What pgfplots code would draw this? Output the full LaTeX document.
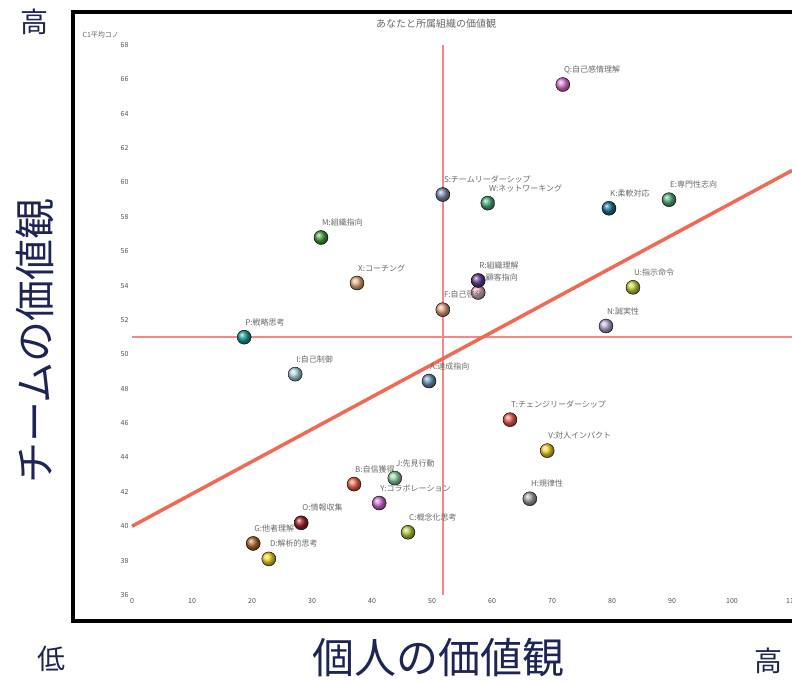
\documentclass[border=0pt]{standalone}
\usepackage{fontspec}
\setmainfont{Noto Sans CJK JP}
\usepackage{pgfplots}
\pgfplotsset{compat=1.18}

\definecolor{navy}{RGB}{30,37,85}
\definecolor{labgray}{RGB}{105,105,105}
\definecolor{tickgray}{RGB}{80,80,80}
\definecolor{refpink}{RGB}{245,135,135}
\definecolor{trend}{RGB}{240,105,85}

\definecolor{cQ}{RGB}{225,120,215}
\definecolor{cS}{RGB}{125,140,180}
\definecolor{cW}{RGB}{75,175,125}
\definecolor{cK}{RGB}{30,115,145}
\definecolor{cE}{RGB}{85,175,125}
\definecolor{cM}{RGB}{70,160,60}
\definecolor{cX}{RGB}{230,175,125}
\definecolor{cL}{RGB}{240,175,190}
\definecolor{cF}{RGB}{230,165,125}
\definecolor{cR}{RGB}{100,60,150}
\definecolor{cU}{RGB}{195,210,60}
\definecolor{cN}{RGB}{185,170,215}
\definecolor{cP}{RGB}{25,160,160}
\definecolor{cI}{RGB}{175,215,225}
\definecolor{cA}{RGB}{115,150,190}
\definecolor{cT}{RGB}{240,95,80}
\definecolor{cV}{RGB}{248,210,45}
\definecolor{cH}{RGB}{165,165,165}
\definecolor{cB}{RGB}{240,105,70}
\definecolor{cJ}{RGB}{140,215,160}
\definecolor{cY}{RGB}{215,110,215}
\definecolor{cC}{RGB}{180,205,65}
\definecolor{cO}{RGB}{165,35,35}
\definecolor{cG}{RGB}{185,105,40}
\definecolor{cD}{RGB}{248,210,40}

% one ball with its label
\newcommand{\pt}[4]{%
  \addplot[only marks, mark=ball, mark size=7pt, ball color=#3,
    nodes near coords={#4}] coordinates {(#1,#2)};}

\begin{document}
\begin{tikzpicture}
\useasboundingbox (0pt,0pt) rectangle (792pt,681pt);
\begin{axis}[
  at={(132pt,86pt)}, anchor=south west,
  scale only axis, width=660pt, height=550pt,
  xmin=0, xmax=110, ymin=36, ymax=68,
  xtick={0,10,...,110}, ytick={36,38,...,68},
  axis line style={draw=none}, tick style={draw=none},
  ticklabel style={font=\fontsize{7}{8}\selectfont, text=tickgray},
  /pgf/number format/assume math mode=true,
  clip=false,
  nodes near coords align={anchor=west},
  every node near coord/.style={anchor=west, xshift=1pt, yshift=15pt,
    inner sep=0pt, font=\fontsize{8}{9}\selectfont, text=labgray},
]
% average lines
\addplot[no marks, color=refpink, line width=1.4pt] coordinates {(51.8,36) (51.8,68)};
\addplot[no marks, color=refpink, line width=1.4pt] coordinates {(0,51.02) (110,51.02)};
% trend line
\addplot[no marks, color=trend, line width=3.5pt] coordinates {(0,40) (110,60.7)};

\pt{71.8}{65.7}{cQ}{Q:自己感情理解}
\pt{51.8}{59.3}{cS}{S:チームリーダーシップ}
\pt{59.3}{58.8}{cW}{W:ネットワーキング}
\pt{79.5}{58.5}{cK}{K:柔軟対応}
\pt{89.5}{59.0}{cE}{E:専門性志向}
\pt{31.5}{56.8}{cM}{M:組織指向}
\pt{37.5}{54.15}{cX}{X:コーチング}
\pt{57.7}{53.6}{cL}{L:顧客指向}
\pt{51.8}{52.6}{cF}{F:自己啓発}
\pt{57.7}{54.3}{cR}{R:組織理解}
\pt{83.5}{53.9}{cU}{U:指示命令}
\pt{79.0}{51.65}{cN}{N:誠実性}
\pt{18.7}{51.0}{cP}{P:戦略思考}
\pt{27.2}{48.85}{cI}{I:自己制御}
\pt{49.5}{48.45}{cA}{A:達成指向}
\pt{63.0}{46.2}{cT}{T:チェンジリーダーシップ}
\pt{69.2}{44.4}{cV}{V:対人インパクト}
\pt{66.3}{41.6}{cH}{H:規律性}
\pt{37.0}{42.45}{cB}{B:自信獲得}
\pt{43.8}{42.8}{cJ}{J:先見行動}
\pt{41.2}{41.35}{cY}{Y:コラボレーション}
\pt{46.0}{39.65}{cC}{C:概念化思考}
\pt{28.2}{40.2}{cO}{O:情報収集}
\pt{20.2}{39.0}{cG}{G:他者理解}
\pt{22.8}{38.1}{cD}{D:解析的思考}
\end{axis}

\draw[line width=3.5pt] (73pt,60pt) rectangle (815pt,669pt);
\node[text=labgray, font=\fontsize{10}{12}\selectfont] at (436pt,657pt) {あなたと所属組織の価値観};
\node[anchor=west, text=labgray, font=\fontsize{7}{8}\selectfont] at (79pt,646pt) {C1平均コノ};

\node[text=navy, font=\fontsize{28}{30}\selectfont] at (34pt,659pt) {高};
\node[text=navy, rotate=90, font=\fontsize{41}{43}\selectfont] at (35pt,340pt) {チームの価値観};
\node[text=navy, font=\fontsize{28}{30}\selectfont] at (51pt,22pt) {低};
\node[text=navy, font=\fontsize{42}{44}\selectfont] at (438pt,23pt) {個人の価値観};
\node[text=navy, font=\fontsize{28}{30}\selectfont] at (768pt,20pt) {高};
\end{tikzpicture}
\end{document}
